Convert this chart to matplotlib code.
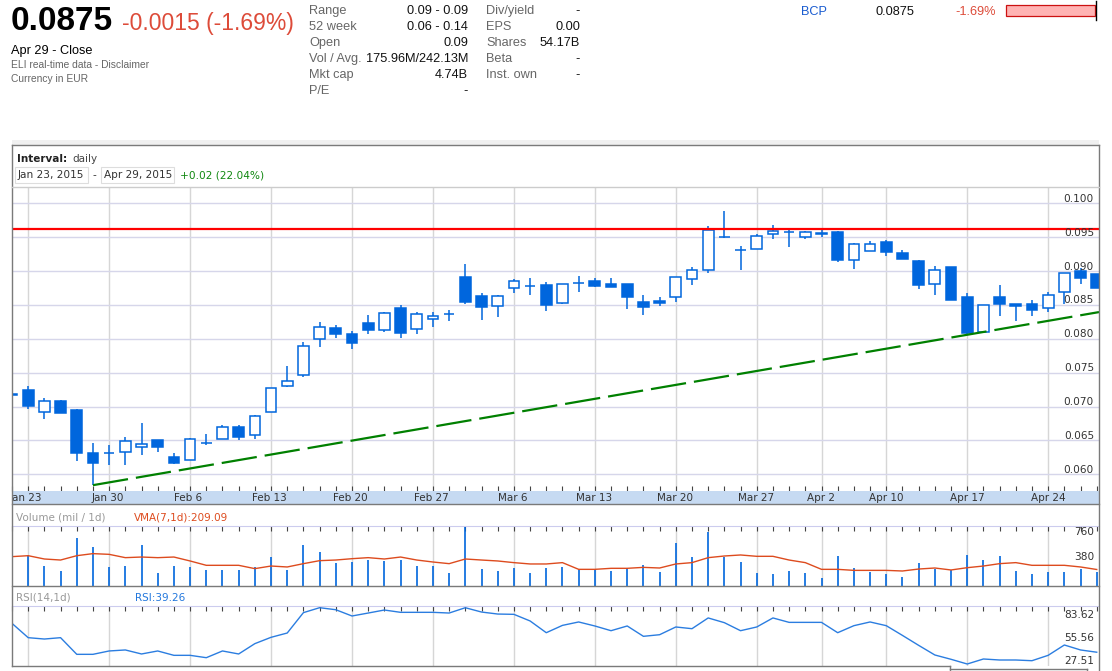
import numpy as np
import pandas as pd
import matplotlib
matplotlib.use("Agg")
import matplotlib.pyplot as plt
from matplotlib.patches import Rectangle
from matplotlib.lines import Line2D
from matplotlib.transforms import blended_transform_factory, offset_copy

# ===== DATA =====
# trading days shown (Lisbon closed on Good Friday / Easter Monday)
days = pd.bdate_range("2015-01-22", "2015-04-29")
days = days[~days.isin(pd.to_datetime(["2015-04-03", "2015-04-06"]))]

week_dates = ["2015-01-23", "2015-01-30", "2015-02-06", "2015-02-13", "2015-02-20",
              "2015-02-27", "2015-03-06", "2015-03-13", "2015-03-20", "2015-03-27",
              "2015-04-02", "2015-04-10", "2015-04-17", "2015-04-24"]
week_labels = ["Jan 23", "Jan 30", "Feb 6", "Feb 13", "Feb 20", "Feb 27", "Mar 6",
               "Mar 13", "Mar 20", "Mar 27", "Apr 2", "Apr 10", "Apr 17", "Apr 24"]

opens = [0.0718, 0.07244, 0.06915, 0.07077, 0.06949, 0.06310, 0.06310, 0.06324, 0.06398, 0.06506,
         0.06251, 0.06206, 0.06457, 0.06516, 0.06693, 0.06575, 0.06915, 0.07308, 0.07461, 0.07992,
         0.08155, 0.08066, 0.08228, 0.08135, 0.08455, 0.08150, 0.08287, 0.08361, 0.08912, 0.08627,
         0.08489, 0.08745, 0.08784, 0.08794, 0.08533, 0.08819, 0.08853, 0.08809, 0.08809, 0.08538,
         0.08553, 0.08612, 0.08878, 0.09011, 0.09508, 0.09306, 0.09331, 0.09542, 0.09572, 0.09498,
         0.09567, 0.09576, 0.09158, 0.09291, 0.09424, 0.09262, 0.09148, 0.08814, 0.09055, 0.08612,
         0.08105, 0.08612, 0.08509, 0.08509, 0.08450, 0.08686, 0.09001, 0.08952]
highs = [0.0720, 0.07303, 0.07131, 0.07102, 0.06959, 0.06462, 0.06428, 0.06546, 0.06752, 0.06506,
         0.06310, 0.06531, 0.06590, 0.06723, 0.06728, 0.06880, 0.07274, 0.07604, 0.07948, 0.08243,
         0.08209, 0.08120, 0.08347, 0.08391, 0.08499, 0.08391, 0.08391, 0.08420, 0.09109, 0.08676,
         0.08642, 0.08883, 0.08893, 0.08834, 0.08809, 0.08932, 0.08902, 0.08893, 0.08809, 0.08642,
         0.08617, 0.08907, 0.09065, 0.09665, 0.09882, 0.09365, 0.09542, 0.09680, 0.09640, 0.09596,
         0.09616, 0.09596, 0.09409, 0.09439, 0.09453, 0.09306, 0.09163, 0.09070, 0.09060, 0.08671,
         0.08494, 0.08789, 0.08514, 0.08573, 0.08696, 0.08966, 0.09040, 0.08952]
lows = [0.0716, 0.06959, 0.06811, 0.06900, 0.06201, 0.05842, 0.06132, 0.06142, 0.06285, 0.06324,
        0.06152, 0.06206, 0.06428, 0.06516, 0.06506, 0.06516, 0.06915, 0.07284, 0.07436, 0.07884,
        0.08017, 0.07850, 0.08076, 0.08096, 0.08017, 0.08066, 0.08179, 0.08258, 0.08519, 0.08278,
        0.08317, 0.08676, 0.08642, 0.08415, 0.08519, 0.08696, 0.08760, 0.08760, 0.08445, 0.08356,
        0.08479, 0.08548, 0.08794, 0.08976, 0.09483, 0.09011, 0.09331, 0.09478, 0.09350, 0.09473,
        0.09498, 0.09134, 0.09035, 0.09291, 0.09227, 0.09178, 0.08740, 0.08647, 0.08568, 0.08071,
        0.08105, 0.08337, 0.08268, 0.08337, 0.08396, 0.08514, 0.08809, 0.08750]
closes = [0.0717, 0.07013, 0.07077, 0.06910, 0.06310, 0.06172, 0.06310, 0.06487, 0.06442, 0.06398,
          0.06172, 0.06516, 0.06457, 0.06693, 0.06556, 0.06856, 0.07269, 0.07372, 0.07889, 0.08169,
          0.08076, 0.07943, 0.08135, 0.08376, 0.08091, 0.08361, 0.08332, 0.08361, 0.08543, 0.08474,
          0.08627, 0.08848, 0.08784, 0.08504, 0.08804, 0.08819, 0.08784, 0.08770, 0.08622, 0.08474,
          0.08529, 0.08907, 0.09011, 0.09601, 0.09508, 0.09306, 0.09513, 0.09586, 0.09572, 0.09581,
          0.09542, 0.09163, 0.09394, 0.09394, 0.09286, 0.09183, 0.08799, 0.09011, 0.08578, 0.08086,
          0.08494, 0.08519, 0.08489, 0.08430, 0.08642, 0.08966, 0.08902, 0.08750]

# volume in millions and its 7 day average
volume = [300, 393, 253, 194, 604, 490, 236, 258, 519, 160, 249, 245, 207, 207, 207, 245, 372,
          203, 515, 426, 287, 308, 329, 317, 329, 253, 253, 160, 743, 215, 186, 224, 169, 228,
          245, 215, 215, 194, 232, 266, 182, 540, 372, 688, 372, 304, 160, 148, 190, 169, 97,
          380, 228, 177, 148, 118, 296, 220, 203, 393, 325, 380, 190, 152, 177, 182, 215, 176]
vma = [372, 384, 342, 329, 384, 410, 401, 359, 367, 359, 367, 317, 262, 262, 262, 220, 253,
       241, 283, 321, 329, 346, 359, 342, 367, 329, 304, 283, 342, 329, 317, 296, 279, 279,
       296, 211, 211, 224, 224, 236, 228, 279, 296, 359, 380, 393, 376, 376, 329, 296, 211,
       211, 198, 198, 198, 190, 215, 228, 203, 232, 253, 283, 296, 262, 262, 262, 241, 209.09]
rsi = [68.0, 53.75, 52.4, 53.75, 37.15, 37.15, 40.5, 41.5, 37.5, 40.5, 36.15, 36.15, 33.8,
       40.5, 37.5, 47.8, 54.1, 58.4, 78.7, 83.62, 81.6, 75.35, 78.3, 81.3, 79.0, 79.0, 79.0,
       78.3, 83.6, 79.3, 77.3, 77.0, 70.4, 58.7, 66.0, 69.4, 65.4, 60.7, 65.4, 55.1, 56.7,
       64.4, 62.7, 73.4, 68.7, 60.7, 64.4, 73.4, 69.0, 69.0, 69.0, 58.7, 65.7, 69.4, 65.7,
       56.0, 46.1, 36.5, 32.2, 27.51, 32.5, 31.5, 31.5, 30.8, 36.15, 46.45, 41.5, 39.26]

resistance = 0.0962
trend_dates = ["2015-01-29", "2015-04-17"]
trend_prices = [0.0584, 0.0806]
price_levels = [0.060, 0.065, 0.070, 0.075, 0.080, 0.085, 0.090, 0.095, 0.100]
vol_levels = [760, 380]
rsi_levels = [83.62, 55.56, 27.51]

# ===== STYLE =====
BLUE = "#0066dd"
GRID_H = "#d6d6ea"
GRID_V = "#d6d6d6"
FRAME = "#7a7a7a"
CHART_FONT = "DejaVu Sans"
HEAD_FONT = "Liberation Sans"

W, H = 1112, 671
fig = plt.figure(figsize=(W / 100, H / 100), dpi=100)
fig.patch.set_facecolor("white")


def px_axes(x0, y0, x1, y1):
    return fig.add_axes([x0 / W, 1 - y1 / H, (x1 - x0) / W, (y1 - y0) / H])


def ftext(x, y, s, **kw):
    kw.setdefault("family", HEAD_FONT)
    kw.setdefault("va", "baseline")
    return fig.text(x / W, 1 - y / H, s, **kw)


def fline(xs, ys, color=FRAME, lw=1.0):
    fig.add_artist(Line2D([x / W for x in xs], [1 - y / H for y in ys],
                          transform=fig.transFigure, color=color, lw=lw))


def frect(x0, y0, x1, y1, **kw):
    fig.add_artist(Rectangle((x0 / W, 1 - y1 / H), (x1 - x0) / W, (y1 - y0) / H,
                             transform=fig.transFigure, **kw))


def right_labels(ax, levels, offsets, fmt):
    # value labels drawn inside the panel, right aligned
    for val, dy in zip(levels, offsets):
        tr = offset_copy(blended_transform_factory(ax.transAxes, ax.transData), fig=fig,
                         x=0, y=dy, units="dots")
        ax.text(0.9954, val, fmt.format(val), transform=tr, ha="right", va="baseline",
                fontsize=7.6, family=CHART_FONT, color="#333333", zorder=6)


n = len(days)
pos = np.arange(n)
week_pos = days.get_indexer(pd.to_datetime(week_dates))
trend_pos = days.get_indexer(pd.to_datetime(trend_dates))
XLIM = (0.12, 67.14)
X0, X1 = 12, 1099

# ===== HEADER =====
ftext(11, 30, "0.0875", fontsize=24, weight="bold", color="#000000")
ftext(122, 30, "-0.0015 (-1.69%)", fontsize=16.5, color="#dd4b39")
ftext(11, 54, "Apr 29 - Close", fontsize=9.2, color="#000000")
ftext(11, 68.5, "ELI real-time data - Disclaimer", fontsize=7.4, color="#666666")
ftext(11, 82.5, "Currency in EUR", fontsize=7.4, color="#666666")

left_rows = [("Range", "0.09 - 0.09"), ("52 week", "0.06 - 0.14"), ("Open", "0.09"),
             ("Vol / Avg.", "175.96M/242.13M"), ("Mkt cap", "4.74B"), ("P/E", "-")]
right_rows = [("Div/yield", "-"), ("EPS", "0.00"), ("Shares", "54.17B"),
              ("Beta", "-"), ("Inst. own", "-")]
for k, (lab, val) in enumerate(left_rows):
    ftext(309, 14 + 16 * k, lab, fontsize=9.2, color="#666666")
    ftext(468, 14 + 16 * k, val, fontsize=9.2, color="#111111", ha="right")
for k, (lab, val) in enumerate(right_rows):
    ftext(486, 14 + 16 * k, lab, fontsize=9.2, color="#666666")
    ftext(580, 14 + 16 * k, val, fontsize=9.2, color="#111111", ha="right")

ftext(801, 15, "BCP", fontsize=9.2, color="#1a5cd0")
ftext(876, 15, "0.0875", fontsize=9.2, color="#111111")
ftext(955, 15, "-1.69%", fontsize=9.2, color="#dd4b39")
frect(1006, 5, 1095, 16, facecolor="#ffb3b3", edgecolor="#cc1111", lw=0.9)
fline([1095.5, 1095.5], [1, 20], color="#000000", lw=1.0)

# ===== FRAME & INTERVAL BOX =====
frect(X0, 140, X1, 145, facecolor="#f0f0f0", edgecolor="none")
fline([X0, X1], [145, 145])
fline([X0, X0], [145, 666])
fline([X1, X1], [145, 671])
fline([X0, X1], [187, 187], color="#cccccc")
fline([X0, X1], [504, 504])
fline([X0, X1], [586, 586])
fline([X0, 950], [666, 666])
fline([950, 950], [666, 671])
fline([950, 1087], [669, 669])
fline([1087, 1087], [669, 671])

ftext(17, 161.5, "Interval:", family=CHART_FONT, fontsize=7.5, weight="bold", color="#222222")
ftext(72, 161.5, "daily", family=CHART_FONT, fontsize=7.5, color="#444444")
frect(15, 167, 88, 183, facecolor="white", edgecolor="#dddddd", lw=0.8)
frect(101, 167, 174, 183, facecolor="white", edgecolor="#dddddd", lw=0.8)
ftext(18, 178.5, "Jan 23, 2015", family=CHART_FONT, fontsize=7.6, color="#333333")
ftext(92, 178.5, "-", family=CHART_FONT, fontsize=7.6, color="#333333")
ftext(104, 178.5, "Apr 29, 2015", family=CHART_FONT, fontsize=7.6, color="#333333")
ftext(180, 178.5, "+0.02 (22.04%)", family=CHART_FONT, fontsize=7.6, color="#118811")


def style_panel(ax, tick_side):
    ax.set_xlim(*XLIM)
    for s in ax.spines.values():
        s.set_visible(False)
    ax.set_xticks(week_pos)
    ax.set_xticks(pos, minor=True)
    ax.xaxis.grid(True, color=GRID_V, lw=1.0, zorder=0)
    ax.tick_params(axis="x", which="both", direction="in", length=3.6, width=0.8,
                   color="#444444", labelbottom=False, labeltop=False,
                   bottom=(tick_side == "bottom"), top=(tick_side == "top"))
    ax.tick_params(axis="y", left=False, right=False, labelleft=False)
    ax.set_axisbelow(True)


# ===== PRICE PANEL =====
ax = px_axes(X0, 187, X1, 491)
style_panel(ax, "bottom")
ax.set_ylim(0.05754, 0.10241)
ax.set_yticks(price_levels)
ax.yaxis.grid(True, color=GRID_H, lw=1.0, zorder=0)

bw = 0.66
for i in range(n):
    o, h, l, c = opens[i], highs[i], lows[i], closes[i]
    ax.vlines(pos[i], l, h, color=BLUE, lw=1.1, zorder=3)
    face = "white" if c >= o else BLUE
    ax.add_patch(Rectangle((pos[i] - bw / 2, min(o, c)), bw, abs(c - o),
                           facecolor=face, edgecolor=BLUE, lw=1.1, zorder=4))

ax.axhline(resistance, color="#ff0000", lw=1.6, zorder=5)

slope = (trend_prices[1] - trend_prices[0]) / (trend_pos[1] - trend_pos[0])
x_end = XLIM[1]
ax.plot([trend_pos[0], x_end], [trend_prices[0], trend_prices[0] + slope * (x_end - trend_pos[0])],
        color="#008000", lw=1.6, dashes=(16, 3.6), zorder=5)

right_labels(ax, price_levels, [1.5] * len(price_levels), "{:.3f}")

# date band
band = px_axes(X0, 491, X1, 504)
band.set_facecolor("#c6daf2")
band.set_xlim(*XLIM)
band.set_ylim(0, 1)
band.set_xticks([])
band.set_yticks([])
for s in band.spines.values():
    s.set_visible(False)
for xp, lab in zip(week_pos, week_labels):
    band.text(xp, 0.45, lab, ha="center", va="center", fontsize=7.5, family=CHART_FONT,
              color="#333333", clip_on=True)

# ===== VOLUME PANEL =====
ftext(16, 521, "Volume (mil / 1d)", family=CHART_FONT, fontsize=7.5, color="#999999")
ftext(134, 521, f"VMA(7,1d):{vma[-1]:.2f}", family=CHART_FONT, fontsize=7.5, color="#dd4b1e")

axv = px_axes(X0, 526, X1, 586)
style_panel(axv, "top")
axv.set_ylim(0, vol_levels[0])
axv.spines["top"].set_visible(True)
axv.spines["top"].set_color("#ccccee")
axv.vlines(pos, 0, volume, color=BLUE, lw=1.2, zorder=3)
axv.plot(pos, vma, color="#dd4b1e", lw=1.0, zorder=4)
right_labels(axv, vol_levels, [-8.6, -3.6], "{:.0f}")

# ===== RSI PANEL =====
ftext(16, 601, "RSI(14,1d)", family=CHART_FONT, fontsize=7.5, color="#999999")
ftext(135, 601, f"RSI:{rsi[-1]:.2f}", family=CHART_FONT, fontsize=7.5, color="#2277dd")

axr = px_axes(X0, 606, X1, 666)
style_panel(axr, "top")
axr.set_ylim(25.52, 85.31)
axr.spines["top"].set_visible(True)
axr.spines["top"].set_color("#ccccee")
axr.plot(pos, rsi, color="#2b7de0", lw=1.0, zorder=4)
right_labels(axr, rsi_levels, [-10.5, -5.3, 0.5], "{:.2f}")

fig.savefig("out.png", dpi=100, facecolor="white")
